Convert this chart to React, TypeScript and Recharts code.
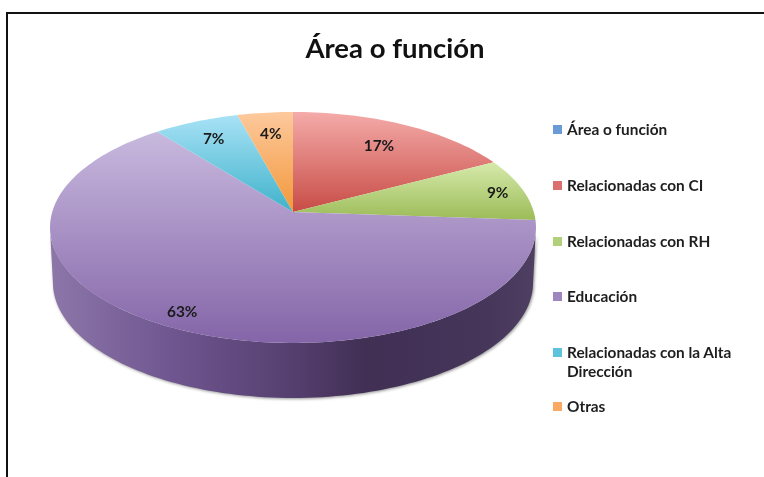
import React from 'react';
import { PieChart, Pie, Cell, Legend } from 'recharts';

const categories = ['Área o función', 'Relacionadas con CI', 'Relacionadas con RH', 'Educación', 'Relacionadas con la Alta Dirección', 'Otras'];
const shares = [0, 17.3, 8.8, 63.2, 6.5, 4.2];
const legendColors = ['#6a9bd6', '#da6f6d', '#b2d07c', '#9e86bf', '#5fc2dc', '#f9a961'];
const topColors = ['#8fb5e5', '#f4aba9', '#d6eaab', '#c8b9de', '#a8e2f6', '#fdc99d'];
const bottomColors = ['#4f81bd', '#c84c46', '#9cbc58', '#8465a8', '#3fb2ca', '#f2983a'];
const labelReach = [0.8, 0.75, 0.89, 0.885, 0.8, 0.77];
const legendRowCenters = [130, 186, 242, 297, 353, 407];

const data = categories.map((name, i) => ({ name, value: shares[i], fill: legendColors[i] }));

const CX = 293;
const CY = 212;
const SX = 240.8;
const SY = 113.4;
const TILT = 0.134;
const DEPTH = 55;
const DEPTH_NARROW = 0.988;
const FONT = 'Lato, Carlito, sans-serif';

// perspective projection of a point of the unit disc; math-angle degrees as used by Recharts
const project = (deg: number, r = 1) => {
  const a = (deg * Math.PI) / 180;
  const X = r * Math.cos(a);
  const Y = r * Math.sin(a);
  const w = 1 + TILT * Y;
  return [CX + (SX * X) / w, CY - (SY * Y) / w];
};

const sweep = (from: number, to: number) => {
  const n = Math.max(2, Math.ceil(Math.abs(to - from) / 1.5));
  const pts: number[][] = [];
  for (let i = 0; i <= n; i++) pts.push(project(from + ((to - from) * i) / n));
  return pts;
};
const toPath = (pts: number[][]) => pts.map((p) => `${p[0].toFixed(2)} ${p[1].toFixed(2)}`).join(' L ');

const Slice = (props: any) => {
  const { startAngle, endAngle, index } = props;
  if (Math.abs(startAngle - endAngle) < 0.001) return null;
  const id = `slice-${index}`;
  const rim = sweep(startAngle, endAngle);
  const top = `M ${CX} ${CY} L ${toPath(rim)} Z`;

  // the visible side wall lies between the left and right extremes of the rim
  const hi = Math.min(startAngle, -8);
  const lo = Math.max(endAngle, -172);
  let wall = null;
  if (hi > lo) {
    const edge = sweep(hi, lo);
    const lower = edge.map(([x, y]) => [CX + (x - CX) * DEPTH_NARROW, y + DEPTH]).reverse();
    wall = (
      <path
        d={`M ${toPath(edge)} L ${toPath(lower)} Z`}
        fill={`url(#${id}-wall)`}
        style={{ filter: 'drop-shadow(1px 1px 1.5px rgba(60,60,60,0.55))' }}
      />
    );
  }
  return (
    <g>
      <defs>
        <linearGradient id={id} x1="0" y1="0" x2="0" y2="1">
          <stop offset="0%" stopColor={topColors[index]} />
          <stop offset="100%" stopColor={bottomColors[index]} />
        </linearGradient>
        <linearGradient id={`${id}-wall`} x1="0" y1="0" x2="1" y2="0">
          <stop offset="0%" stopColor="#8d77a9" />
          <stop offset="25%" stopColor="#6f5690" />
          <stop offset="50%" stopColor="#553f6f" />
          <stop offset="65%" stopColor="#412f54" />
          <stop offset="90%" stopColor="#45365a" />
          <stop offset="100%" stopColor="#4f4063" />
        </linearGradient>
      </defs>
      {wall}
      <path d={top} fill={`url(#${id})`} />
    </g>
  );
};

const SliceLabel = (props: any) => {
  const { midAngle, value, index } = props;
  if (!value) return null;
  const [x, y] = project(midAngle, labelReach[index]);
  return (
    <text x={x} y={y} textAnchor="middle" dominantBaseline="central" fontFamily={FONT} fontWeight={700} fontSize={15.4} fill="#1a1a1a">
      {`${Math.round(value)}%`}
    </text>
  );
};

const LegendRows = (props: any) => (
  <div style={{ position: 'relative', width: 764, height: 477 }}>
    {(props.payload || []).map((entry: any, i: number) => (
      <div key={entry.value}>
        <div style={{ position: 'absolute', left: 553, top: legendRowCenters[i] - 5, width: 9, height: 9, background: entry.color }} />
        <div
          style={{
            position: 'absolute',
            left: 567,
            top: legendRowCenters[i] - 10,
            width: 178,
            fontFamily: FONT,
            fontWeight: 700,
            fontSize: 15.4,
            lineHeight: '19px',
            color: '#1e1e1e',
            textAlign: 'left',
          }}
        >
          {entry.value}
        </div>
      </div>
    ))}
  </div>
);

export default function App() {
  return (
    <div style={{ position: 'absolute', left: 0, top: 0, width: 764, height: 477, background: '#fff', overflow: 'hidden', filter: 'blur(0.5px)' }}>
      <div style={{ position: 'absolute', left: 6, top: 12, width: 780, height: 480, borderLeft: '2px solid #111', borderTop: '2px solid #111' }} />
      <div style={{ position: 'absolute', left: 0, right: 0, top: 30, paddingLeft: 26, textAlign: 'center', fontFamily: FONT, fontWeight: 700, fontSize: 27.5, lineHeight: '36px', color: '#111' }}>
        Área o función
      </div>
      <div style={{ position: 'absolute', left: 0, top: 0 }}>
        <PieChart width={764} height={477} margin={{ top: 0, right: 0, bottom: 0, left: 0 }}>
          <Pie
            data={data}
            dataKey="value"
            nameKey="name"
            cx={CX}
            cy={CY}
            outerRadius={110}
            startAngle={90}
            endAngle={-270}
            stroke="none"
            isAnimationActive={false}
            labelLine={false}
            label={SliceLabel}
            shape={Slice}
          >
            {data.map((d) => (
              <Cell key={d.name} fill={d.fill} />
            ))}
          </Pie>
          <Legend content={LegendRows} itemSorter={null} wrapperStyle={{ left: 0, top: 0, width: 764, height: 477 }} />
        </PieChart>
      </div>
    </div>
  );
}
